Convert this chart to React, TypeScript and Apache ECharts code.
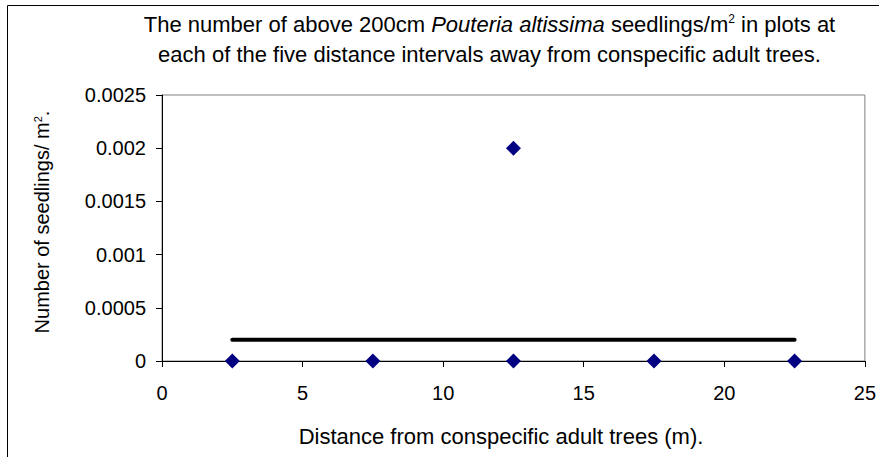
import React, { useEffect, useRef } from "react";
import * as echarts from "echarts";

const distances = [2.5, 7.5, 12.5, 12.5, 17.5, 22.5];
const seedlings = [0, 0, 0, 0.002, 0, 0];
const trendX = [2.5, 22.5];
const trendY = [0.0002, 0.0002];
const xTicks = { min: 0, max: 25, interval: 5 };
const yTicks = { min: 0, max: 0.0025, interval: 0.0005 };

const FONT = "'Liberation Sans', Arial, sans-serif";

export default function App() {
  const ref = useRef<HTMLDivElement>(null);
  useEffect(() => {
    if (!ref.current) return;
    const chart = echarts.init(ref.current, null, { renderer: "svg" });
    chart.setOption({
      animation: false,
      backgroundColor: "#ffffff",
      textStyle: { fontFamily: FONT },
      grid: {
        left: 162,
        right: 9,
        top: 95,
        bottom: 96,
        show: true,
        borderColor: "#808080",
        borderWidth: 1,
        backgroundColor: "transparent",
      },
      xAxis: {
        type: "value",
        min: xTicks.min,
        max: xTicks.max,
        interval: xTicks.interval,
        axisLine: { show: true, onZero: false, lineStyle: { color: "#000", width: 1 } },
        axisTick: { show: true, length: 6, lineStyle: { color: "#000" } },
        splitLine: { show: false },
        axisLabel: { color: "#000", fontSize: 20, margin: 22, fontFamily: FONT },
      },
      yAxis: {
        type: "value",
        min: yTicks.min,
        max: yTicks.max,
        interval: yTicks.interval,
        axisLine: { show: true, lineStyle: { color: "#000", width: 1 } },
        axisTick: { show: true, length: 6, lineStyle: { color: "#000" } },
        splitLine: { show: false },
        axisLabel: {
          color: "#000",
          fontSize: 20,
          margin: 16,
          fontFamily: FONT,
          formatter: (v: number) => String(+v.toFixed(4)),
        },
      },
      graphic: [
        {
          type: "rect",
          shape: { x: 7.5, y: 5.5, width: 1000, height: 1000 },
          style: { fill: "none", stroke: "#000", lineWidth: 1 },
          silent: true,
          z: -1,
        },
        {
          type: "text",
          x: 489.5,
          y: 24,
          style: {
            text: "{n|The number of above 200cm }{i|Pouteria altissima}{n| seedlings/m}{s|2}{n| in plots at}",
            align: "center",
            verticalAlign: "middle",
            rich: {
              n: { fontSize: 22, fontFamily: FONT, fill: "#000" },
              i: { fontSize: 22, fontFamily: FONT, fontStyle: "italic", fill: "#000" },
              s: { fontSize: 12, fontFamily: FONT, fill: "#000", padding: [0, 0, 10, 0] },
            },
          },
        },
        {
          type: "text",
          x: 489.5,
          y: 54,
          style: {
            text: "each of the five distance intervals away from conspecific adult trees.",
            align: "center",
            verticalAlign: "middle",
            fontSize: 22,
            fontFamily: FONT,
            fill: "#000",
          },
        },
        {
          type: "text",
          x: 501,
          y: 436,
          style: {
            text: "Distance from conspecific adult trees (m).",
            align: "center",
            verticalAlign: "middle",
            fontSize: 22,
            fontFamily: FONT,
            fill: "#000",
          },
        },
        {
          type: "text",
          x: 42,
          y: 222,
          rotation: Math.PI / 2,
          style: {
            text: "{n|Number of seedlings/ m}{s|2}{n|.}",
            align: "center",
            verticalAlign: "middle",
            rich: {
              n: { fontSize: 20, fontFamily: FONT, fill: "#000" },
              s: { fontSize: 11, fontFamily: FONT, fill: "#000", padding: [0, 0, 9, 0] },
            },
          },
        },
      ],
      series: [
        {
          type: "line",
          data: trendX.map((x, i) => [x, trendY[i]]),
          showSymbol: false,
          symbol: "none",
          lineStyle: { color: "#000", width: 4, cap: "round" },
          z: 3,
        },
        {
          type: "scatter",
          data: distances.map((x, i) => [x, seedlings[i]]),
          symbol: "diamond",
          symbolSize: [15, 15],
          itemStyle: { color: "#000080", opacity: 1 },
          clip: false,
          z: 4,
        },
      ],
    });
    return () => chart.dispose();
  }, []);
  return (
    <div
      ref={ref}
      style={{ position: "absolute", left: 0, top: 0, width: 879, height: 457 }}
    />
  );
}
